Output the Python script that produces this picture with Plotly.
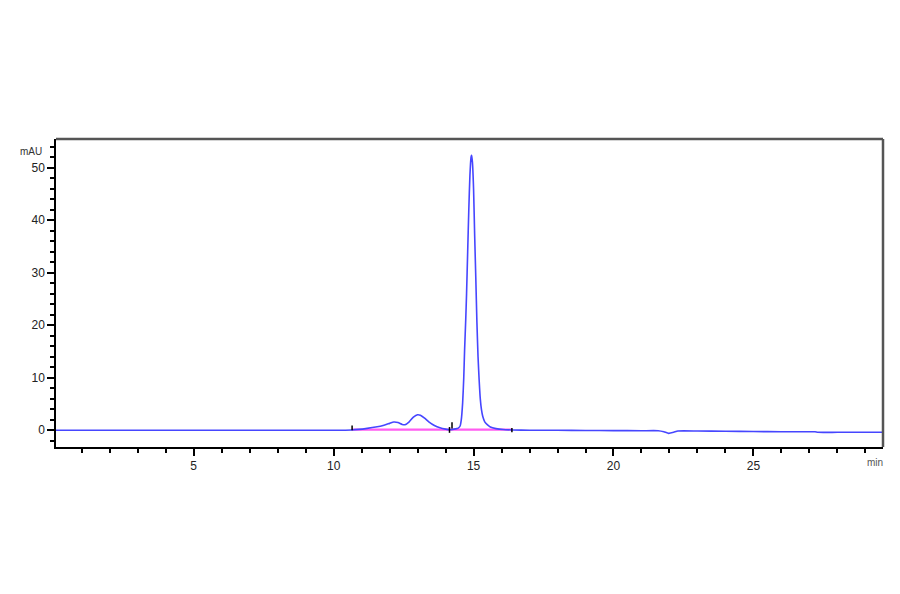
import plotly.graph_objects as go

# chromatogram trace (min, mAU)
time_min = [0, 2, 4, 6, 8, 10, 10.64, 10.9, 11.2, 11.5, 11.8, 12.0, 12.15, 12.3, 12.45, 12.55,
            12.7, 12.85, 13.0, 13.1, 13.25, 13.4, 13.6, 13.8, 14.0, 14.15, 14.3, 14.4, 14.45,
            14.52, 14.56, 14.61, 14.65, 14.68, 14.72, 14.75, 14.79, 14.83, 14.87, 14.91, 14.93,
            14.96, 15.0, 15.04, 15.08, 15.12, 15.16, 15.2, 15.24, 15.28, 15.33, 15.4, 15.5, 15.6,
            15.8, 16.06, 16.4, 17, 18, 19, 20, 21, 21.6, 21.8, 21.97, 22.15, 22.3, 23, 24, 25, 26,
            27.2, 27.3, 28, 29.65]
mau = [0, 0, 0, 0, 0, 0, 0.05, 0.15, 0.35, 0.6, 0.95, 1.3, 1.55, 1.45, 1.1, 1.05,
       1.6, 2.5, 2.95, 2.85, 2.3, 1.6, 0.9, 0.45, 0.2, 0.1, 0.2, 0.3, 0.4,
       0.8, 1.9, 5.2, 10, 15.3, 21, 26, 34, 42, 48.5, 52, 52.4,
       51, 46, 37, 29, 20.5, 14, 9.5, 6, 4, 2.6, 1.6, 1.0, 0.6,
       0.3, 0.12, 0.05, 0, -0.02, -0.05, -0.08, -0.1, -0.1, -0.3, -0.6, -0.4, -0.15, -0.15, -0.2, -0.25, -0.3,
       -0.3, -0.4, -0.4, -0.4]

# integration baselines (start, end)
base_start = [10.66, 14.17]
base_end = [14.14, 16.37]
base_level = [0.1, 0.1]

# integration event marks
event_t = [10.66, 14.14, 14.23, 16.37]
event_lo = [0, -0.5, 0.3, -0.4]
event_hi = [0.9, 0.6, 1.5, 0.4]

fig = go.Figure()

bx, by = [], []
for s, e, lv in zip(base_start, base_end, base_level):
    bx += [s, e, None]
    by += [lv, lv, None]
fig.add_trace(go.Scatter(x=bx, y=by, mode='lines', line=dict(color='#ff5cf0', width=2.4),
                         hoverinfo='skip'))

fig.add_trace(go.Scatter(x=time_min, y=mau, mode='lines',
                         line=dict(color='#4646ff', width=1.6, shape='spline', smoothing=0.5)))

ex, ey = [], []
for t, lo, hi in zip(event_t, event_lo, event_hi):
    ex += [t, t, None]
    ey += [lo, hi, None]
fig.add_trace(go.Scatter(x=ex, y=ey, mode='lines', line=dict(color='black', width=1.5),
                         hoverinfo='skip'))

tick_font = dict(family='Liberation Sans, Arial, sans-serif', size=12, color='#222222')

# page body adds an 8px offset, margins are set to compensate
fig.update_layout(
    width=900, height=594,
    margin=dict(l=48, r=25, t=131, b=155),
    paper_bgcolor='white', plot_bgcolor='white',
    showlegend=False,
    xaxis=dict(range=[0.08, 29.63], tickvals=[5, 10, 15, 20, 25], ticks='outside',
               ticklen=7, tickwidth=1.5, tickcolor='black', showgrid=False, zeroline=False,
               showline=True, linecolor='black', linewidth=1.5, tickfont=tick_font,
               minor=dict(dtick=1, ticks='outside', ticklen=4, tickcolor='black', tickwidth=1.5,
                          showgrid=False)),
    yaxis=dict(range=[-3.2, 55.46], tickvals=[0, 10, 20, 30, 40, 50], ticks='outside',
               ticklen=7, tickwidth=1.5, tickcolor='black', showgrid=False, zeroline=False,
               showline=True, linecolor='black', linewidth=1.5, tickfont=tick_font,
               minor=dict(dtick=2, ticks='outside', ticklen=4, tickcolor='black', tickwidth=1.5,
                          showgrid=False)),
)

# heavier grey frame on top and right
fig.add_shape(type='line', xref='paper', yref='paper', x0=0, x1=1, y0=1, y1=1,
              line=dict(color='#555555', width=2.5))
fig.add_shape(type='line', xref='paper', yref='paper', x0=1, x1=1, y0=0, y1=1,
              line=dict(color='#555555', width=2.5))

fig.add_annotation(text='mAU', xref='paper', yref='paper', x=-0.015, y=0.985, xanchor='right',
                   yanchor='top', showarrow=False, font=dict(family='Liberation Sans, Arial, sans-serif',
                                                             size=10, color='#333333'))
fig.add_annotation(text='min', xref='paper', yref='paper', x=0.99, y=-0.025, xanchor='center',
                   yanchor='top', showarrow=False, font=dict(family='Liberation Sans, Arial, sans-serif',
                                                             size=10, color='#555555'))

fig.write_html('out.html')
